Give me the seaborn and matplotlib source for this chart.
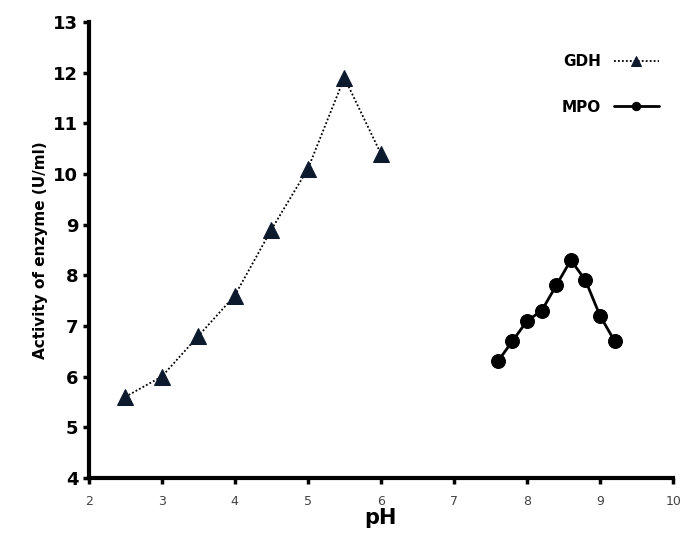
import numpy               as np
import pandas              as pd
import seaborn             as sns
import matplotlib.pyplot   as plt

# ======================================================================== DATA ========================================================================

gdh_ph       = [2.5, 3.0, 3.5, 4.0, 4.5, 5.0, 5.5, 6.0]
gdh_activity = [5.6, 6.0, 6.8, 7.6, 8.9, 10.1, 11.9, 10.4]

mpo_ph       = [7.6, 7.8, 8.0, 8.2, 8.4, 8.6, 8.8, 9.0, 9.2]
mpo_activity = [6.3, 6.7, 7.1, 7.3, 7.8, 8.3, 7.9, 7.2, 6.7]

x_ticks = [2, 3, 4, 5, 6, 7, 8, 9, 10]
y_ticks = [4, 5, 6, 7, 8, 9, 10, 11, 12, 13]

# ======================================================================== PLOT ========================================================================

sns.set_theme(style="ticks")
plt.rcParams['font.family'] = ['DejaVu Sans']
plt.rcParams['text.color'] = 'black'
plt.rcParams['axes.labelcolor'] = 'black'

gdh = pd.DataFrame({"pH": gdh_ph, "Activity": gdh_activity})
mpo = pd.DataFrame({"pH": mpo_ph, "Activity": mpo_activity})

fig = plt.figure(figsize=(6.82, 5.5), dpi=100)
ax = fig.add_axes([0.130, 0.131, 0.857, 0.829])

sns.lineplot(data=gdh, x="pH", y="Activity", ax=ax, color="black", linestyle=(0, (1, 1.2)),
             linewidth=1.3, marker="^", markersize=12, markerfacecolor="#0d1a2e",
             markeredgecolor="#0d1a2e", label="GDH")
sns.lineplot(data=mpo, x="pH", y="Activity", ax=ax, color="black", linestyle="-",
             linewidth=2.0, marker="o", markersize=10, markerfacecolor="black",
             markeredgecolor="black", label="MPO")

ax.set_xlim(2, 10)
ax.set_ylim(4, 13)
ax.set_xticks(x_ticks)
ax.set_yticks(y_ticks)
ax.tick_params(axis="x", labelsize=9, colors="black", labelcolor="#444444", width=2.5, length=4, pad=8)
ax.tick_params(axis="y", labelsize=13, colors="black", labelcolor="black", width=2.5, length=4)
for lbl in ax.get_yticklabels():
    lbl.set_fontweight("bold")

sns.despine(ax=ax)
for side in ["left", "bottom"]:
    ax.spines[side].set_linewidth(3)
    ax.spines[side].set_color("black")

ax.set_xlabel("pH", fontsize=15, fontweight="bold", labelpad=0)
ax.set_ylabel("Activity of enzyme (U/ml)", fontsize=11, fontweight="bold", labelpad=4)

leg = ax.legend(loc="upper right", bbox_to_anchor=(1.0, 0.96), frameon=False, markerfirst=False,
                handlelength=3, labelspacing=2.0, markerscale=0.6,
                prop={"weight": "bold", "size": 11})

plt.savefig("out.png", dpi=100)
